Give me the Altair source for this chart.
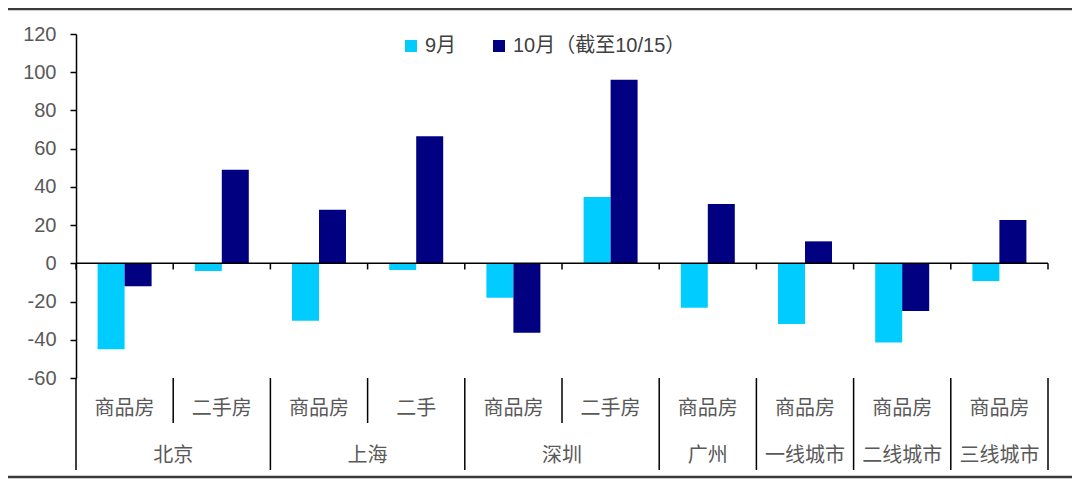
import altair as alt
import pandas as pd

# ---- data ----
cities = ["北京", "北京", "上海", "上海", "深圳", "深圳", "广州", "一线城市", "二线城市", "三线城市"]
types = ["商品房", "二手房", "商品房", "二手", "商品房", "二手房", "商品房", "商品房", "商品房", "商品房"]
sep_values = [-45, -4, -30, -3.5, -18, 34.7, -23.2, -31.8, -41.4, -9.3]
oct_values = [-12, 49, 28, 66.5, -36.3, 96, 31, 11.5, -25, 22.7]
series = ["9月", "10月（截至10/15）"]
colors = ["#00CCFF", "#000080"]
y_ticks = [-60, -40, -20, 0, 20, 40, 60, 80, 100, 120]

FONT = "Liberation Sans, Arial, Noto Sans CJK SC"
CJK = "Noto Sans CJK SC"
GRAY = "#595959"

W, H = 972, 344

keys = [f"{c}·{t}" for c, t in zip(cities, types)]

bars = pd.DataFrame(
    [{"key": k, "series": series[0], "value": v} for k, v in zip(keys, sep_values)]
    + [{"key": k, "series": series[1], "value": v} for k, v in zip(keys, oct_values)]
)

cats = pd.DataFrame({"key": keys, "city": cities, "type": types})
cats["city_start"] = [i == 0 or cities[i] != cities[i - 1] for i in range(len(keys))]

city_rows = []
for i, c in enumerate(cities):
    if i == 0 or cities[i - 1] != c:
        city_rows.append({"city": c, "key": keys[i], "n": cities.count(c)})
city_df = pd.DataFrame(city_rows)

one = pd.DataFrame({"a": [0]})

x_scale = alt.Scale(domain=keys, paddingInner=0, paddingOuter=0)
y_scale = alt.Scale(domain=[-60, 120], nice=False, zero=False)
y_axis = alt.Axis(values=y_ticks, title=None, grid=False, ticks=True,
                  domainColor="black", domainWidth=1.5,
                  tickColor="black", tickWidth=1.5, tickSize=6,
                  labelOverlap=False, labelExpr="'' + datum.value",
                  labelFontSize=20, labelColor=GRAY, labelFont=FONT, labelPadding=14)


def X(bp):
    return alt.X("key:N", sort=keys, scale=x_scale, axis=None, bandPosition=bp)


def YD(v):
    return alt.Y(datum=v, scale=y_scale, axis=y_axis)


def Y2D(v):
    return alt.Y2(datum=v)


bar_layer = alt.Chart(bars).mark_bar().encode(
    x=alt.X("key:N", sort=keys, scale=x_scale, axis=None),
    xOffset=alt.XOffset("series:N", sort=series,
                        scale=alt.Scale(domain=series, paddingInner=0, paddingOuter=0.8)),
    y=alt.Y("value:Q", scale=y_scale, axis=y_axis),
    color=alt.Color("series:N", sort=series,
                    scale=alt.Scale(domain=series, range=colors),
                    legend=alt.Legend(title=None, orient="none", direction="horizontal",
                                      legendX=325, legendY=2, symbolType="square",
                                      symbolSize=144, symbolStrokeWidth=0,
                                      labelFontSize=20, labelFont=FONT, labelColor="#404040",
                                      labelLimit=400,
                                      labelOffset=4, columnPadding=32)),
)

zero_line = alt.Chart(one).mark_rule(color="black", strokeWidth=1.5).encode(
    y=YD(0), x=alt.value(0), x2=alt.value(W)
)

ticks_left = alt.Chart(cats).mark_rule(color="black", strokeWidth=1.5).encode(
    x=X(0), y=YD(0), y2=Y2D(-3.2)
)
ticks_right = alt.Chart(cats.tail(1)).mark_rule(color="black", strokeWidth=1.5).encode(
    x=X(1), y=YD(0), y2=Y2D(-3.2)
)

short_sep = alt.Chart(cats[~cats["city_start"]]).mark_rule(color="black", strokeWidth=1.5).encode(
    x=X(0), y=YD(-60), y2=alt.value(389)
)
long_sep = alt.Chart(cats[cats["city_start"]]).mark_rule(color="black", strokeWidth=1.5).encode(
    x=X(0), y=YD(-60), y2=alt.value(436)
)
long_sep_end = alt.Chart(cats.tail(1)).mark_rule(color="black", strokeWidth=1.5).encode(
    x=X(1), y=YD(-60), y2=alt.value(436)
)

type_labels = alt.Chart(cats).mark_text(font=CJK, fontSize=20, color=GRAY, baseline="middle").encode(
    x=X(0.5), y=alt.value(375), text="type:N"
)
city2 = alt.Chart(city_df[city_df["n"] == 2]).mark_text(font=CJK, fontSize=20, color=GRAY,
                                                         baseline="middle").encode(
    x=X(1), y=alt.value(422), text="city:N"
)
city1 = alt.Chart(city_df[city_df["n"] == 1]).mark_text(font=CJK, fontSize=20, color=GRAY,
                                                         baseline="middle").encode(
    x=X(0.5), y=alt.value(422), text="city:N"
)

frame_top = alt.Chart(one).mark_rule(color="#3a3a3a", strokeWidth=2.5).encode(
    x=alt.value(-68), x2=alt.value(996), y=alt.value(-25)
)
frame_bottom = alt.Chart(one).mark_rule(color="#3a3a3a", strokeWidth=2.5).encode(
    x=alt.value(-68), x2=alt.value(996), y=alt.value(443)
)

chart = alt.layer(
    bar_layer, zero_line, ticks_left, ticks_right, short_sep, long_sep, long_sep_end,
    type_labels, city2, city1, frame_top, frame_bottom
).properties(
    width=W, height=H,
    autosize=alt.AutoSizeParams(type="none"),
    padding={"left": 68, "top": 26, "right": 24, "bottom": 101},
).configure_view(stroke=None)

chart.save("out.html", embed_options={"renderer": "svg", "actions": False})
